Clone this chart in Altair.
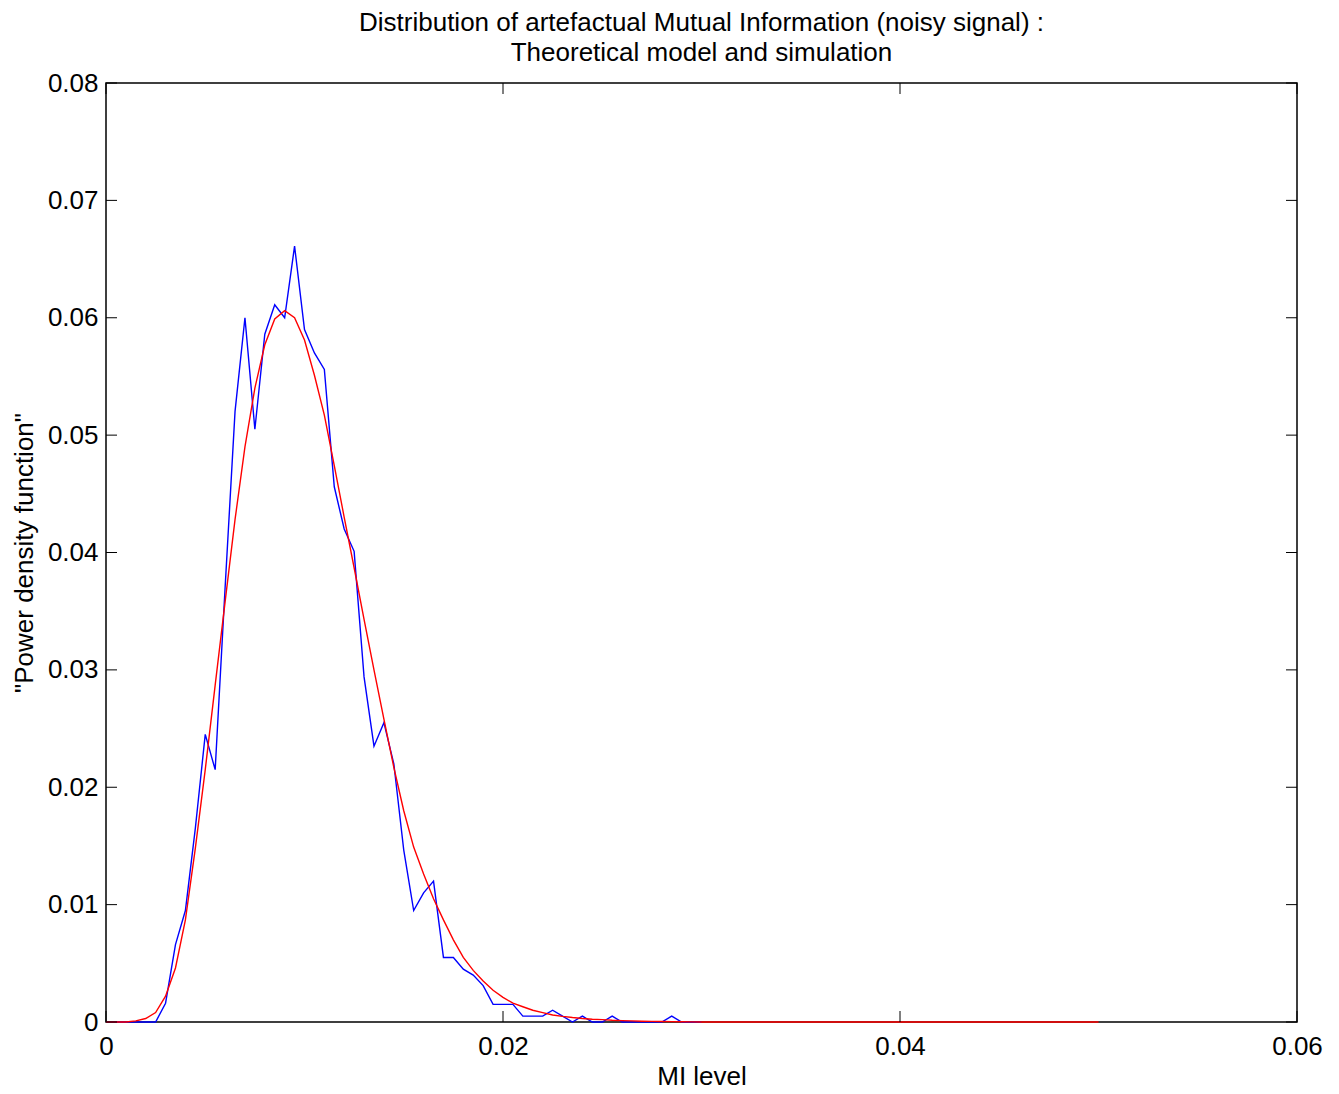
import altair as alt
import pandas as pd

# MI level grid (step 0.0005)
sim_x = [round(i * 0.0005, 4) for i in range(0, 61)]
# Simulated histogram density (blue), 0 .. 0.03
sim_y = [
    0, 0, 0, 0, 0, 0,
    0.0016, 0.0066, 0.0095, 0.0165, 0.0245, 0.0215, 0.0370, 0.0520, 0.0600,
    0.0505, 0.0586, 0.0611, 0.0600, 0.0661, 0.0590, 0.0570, 0.0556, 0.0456,
    0.0420, 0.0401, 0.0294, 0.0235, 0.0255, 0.0220, 0.01465, 0.0095, 0.0110,
    0.0120, 0.0055, 0.0055, 0.0045, 0.0040, 0.0031, 0.0015, 0.0015, 0.0015,
    0.0005, 0.0005, 0.0005, 0.0010, 0.0005, 0, 0.0005, 0, 0, 0.0005, 0, 0,
    0, 0, 0, 0.0005, 0, 0, 0,
]

# Theoretical model (red), 0 .. 0.05
model_x = [round(i * 0.0005, 4) for i in range(0, 101)]
model_head = [
    0, 0, 0, 0.0001, 0.0003, 0.0008, 0.0022, 0.0046, 0.0087, 0.0148,
    0.0215, 0.0287, 0.0358, 0.0428, 0.0490, 0.0540, 0.0577, 0.0599, 0.0606,
    0.0600, 0.0581, 0.0551, 0.0517, 0.0474, 0.0430, 0.0387, 0.0343, 0.0300,
    0.0258, 0.0217, 0.0180, 0.0149, 0.0126, 0.0105, 0.0087, 0.0070, 0.0055,
    0.0044, 0.0035, 0.0027, 0.0021, 0.0016, 0.0013, 0.0010, 0.0008, 0.0006,
    0.00048, 0.00038, 0.0003, 0.00024, 0.0002, 0.00015, 0.00012, 0.0001,
    0.00007, 0.00005, 0.00004, 0.00003, 0.00002, 0.00001,
]
model_y = model_head + [0] * (len(model_x) - len(model_head))

x_ticks = [0, 0.02, 0.04, 0.06]
y_ticks = [0, 0.01, 0.02, 0.03, 0.04, 0.05, 0.06, 0.07, 0.08]

W, H = 1191, 939
TICK = 11
FONT = "Liberation Sans"
FS = 26

sim = pd.DataFrame({"x": sim_x, "y": sim_y})
model = pd.DataFrame({"x": model_x, "y": model_y})
xt = pd.DataFrame({"v": x_ticks})
yt = pd.DataFrame({"v": y_ticks})

xscale = alt.Scale(domain=[0, 0.06], nice=False, zero=False)
yscale = alt.Scale(domain=[0, 0.08], nice=False, zero=False)

x_axis = alt.Axis(
    values=x_ticks, format="~g", title="MI level", grid=False, ticks=False,
    domain=False, labelFlush=False, labelFontSize=FS, labelPadding=11,
    titleFontSize=FS, titleFontWeight="normal", titlePadding=4,
    labelFont=FONT, titleFont=FONT, labelColor="black", titleColor="black",
)
y_axis = alt.Axis(
    values=y_ticks, format="~g", title='"Power density function"', grid=False,
    ticks=False, domain=False, labelFlush=False, labelFontSize=FS,
    labelPadding=8, titleFontSize=FS, titleFontWeight="normal",
    titlePadding=10, labelFont=FONT, titleFont=FONT, labelColor="black",
    titleColor="black",
)

blue = alt.Chart(sim).mark_line(color="#0000ff", strokeWidth=1.4).encode(
    x=alt.X("x:Q", scale=xscale, axis=x_axis),
    y=alt.Y("y:Q", scale=yscale, axis=y_axis),
)
red = alt.Chart(model).mark_line(color="#ff0000", strokeWidth=1.4).encode(
    x=alt.X("x:Q", scale=xscale),
    y=alt.Y("y:Q", scale=yscale),
)

# Inward tick marks on all four sides of the box
tick_style = dict(color="black", strokeWidth=1)
left_ticks = alt.Chart(yt).mark_rule(**tick_style).encode(
    y=alt.Y("v:Q", scale=yscale), x=alt.value(0), x2=alt.value(TICK))
right_ticks = alt.Chart(yt).mark_rule(**tick_style).encode(
    y=alt.Y("v:Q", scale=yscale), x=alt.value(W - TICK), x2=alt.value(W))
bottom_ticks = alt.Chart(xt).mark_rule(**tick_style).encode(
    x=alt.X("v:Q", scale=xscale), y=alt.value(H - TICK), y2=alt.value(H))
top_ticks = alt.Chart(xt).mark_rule(**tick_style).encode(
    x=alt.X("v:Q", scale=xscale), y=alt.value(0), y2=alt.value(TICK))

chart = alt.layer(
    blue, red, left_ticks, right_ticks, bottom_ticks, top_ticks
).properties(
    width=W,
    height=H,
    background="white",
    title=alt.TitleParams(
        text=["Distribution of artefactual Mutual Information (noisy signal) :",
              "Theoretical model and simulation"],
        font=FONT, fontSize=FS, fontWeight="normal", color="black",
        anchor="middle", offset=4, lineHeight=30,
    ),
    autosize=alt.AutoSizeParams(type="none"),
    padding={"left": 106, "top": 83, "right": 42, "bottom": 72},
).configure_view(
    stroke="black", strokeWidth=1.5
)

chart.save("out.html", embed_options={"renderer": "svg", "actions": False})
